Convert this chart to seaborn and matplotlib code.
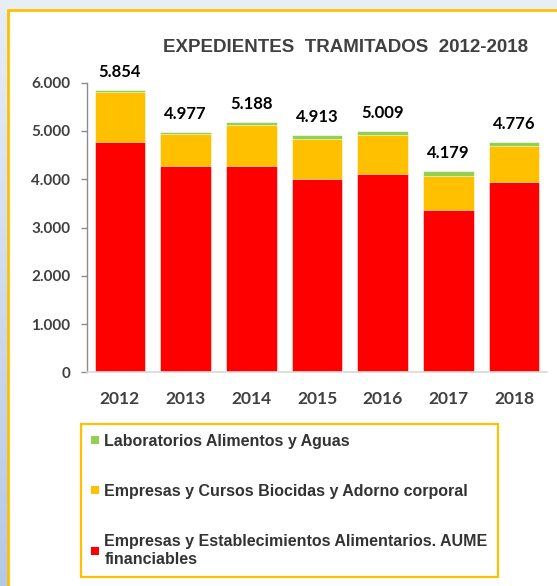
import numpy as np
import pandas as pd
import matplotlib
matplotlib.use("Agg")
import matplotlib.pyplot as plt
from matplotlib.patches import Patch, Rectangle
import seaborn as sns

# Data
years = ["2012", "2013", "2014", "2015", "2016", "2017", "2018"]
alimentarios = [4770, 4280, 4280, 4000, 4108, 3361, 3936]
biocidas = [1030, 657, 853, 830, 811, 703, 750]
laboratorios = [54, 40, 55, 83, 90, 115, 90]
totals = [5854, 4977, 5188, 4913, 5009, 4179, 4776]

labels = [
    "Laboratorios Alimentos y Aguas",
    "Empresas y Cursos Biocidas y Adorno corporal",
    "Empresas y Establecimientos Alimentarios. AUME\nfinanciables",
]
colors = ["#92D050", "#FFC000", "#FF0000"]

df = pd.DataFrame({
    "year": years,
    "red": alimentarios,
    "yellow": biocidas,
    "green": laboratorios,
})
# cumulative heights for stacking via overlapping bars
df["red_top"] = df["red"]
df["yellow_top"] = df["red"] + df["yellow"]
df["green_top"] = df["yellow_top"] + df["green"]

sns.set_style("white")
plt.rcParams["font.family"] = ["Liberation Sans", "DejaVu Sans"]

fig = plt.figure(figsize=(5.57, 5.86), dpi=100)
fig.patch.set_facecolor("#E8EEF6")

W, H = 557, 586

# left blue gradient strip
grad_ax = fig.add_axes([0, 0, 8 / W, 1])
grad_ax.set_zorder(-2)
grad = np.linspace(0, 1, 256).reshape(-1, 1)
grad_ax.imshow(grad, aspect="auto", cmap=matplotlib.colors.LinearSegmentedColormap.from_list(
    "bg", ["#E8EEF6", "#B4C8E8"]), extent=[0, 1, 0, 1], origin="upper")
grad_ax.axis("off")

# white panel with yellow border
fig.patches.append(Rectangle((8 / W, -0.01), 1.0, 1 - 10 / H + 0.01, transform=fig.transFigure,
                             facecolor="white", edgecolor="#FFC000", linewidth=2, zorder=-1))

ax = fig.add_axes([87 / W, (H - 372.3) / H, 460 / W, 289.6 / H])
ax.set_facecolor("white")

sns.barplot(data=df, x="year", y="green_top", color=colors[0], width=0.77,
            saturation=1, ax=ax, edgecolor="white", linewidth=0.4)
sns.barplot(data=df, x="year", y="yellow_top", color=colors[1], width=0.77,
            saturation=1, ax=ax, edgecolor="white", linewidth=0.4)
sns.barplot(data=df, x="year", y="red_top", color=colors[2], width=0.77,
            saturation=1, ax=ax, edgecolor="white", linewidth=0.4)

# total labels above bars
for i, t in enumerate(totals):
    ax.annotate(f"{t:,}".replace(",", "."), (i, t), xytext=(0, 7), textcoords="offset points",
                ha="center", va="bottom", fontsize=12, fontweight="bold", family="Lato",
                color="#000000", annotation_clip=False)

ax.set_ylim(0, 6000)
ax.set_xlim(-0.5, 6.5)
ax.set_yticks(range(0, 6001, 1000))
ax.set_yticklabels([f"{v:,}".replace(",", ".") for v in range(0, 6001, 1000)])
ax.set_xlabel("")
ax.set_ylabel("")

for s in ["top", "right"]:
    ax.spines[s].set_visible(False)
ax.spines["left"].set_color("#8C8C8C")
ax.spines["left"].set_linewidth(1)
ax.spines["bottom"].set_color("#D9D9D9")
ax.spines["bottom"].set_linewidth(1.2)

ax.tick_params(axis="y", left=True, length=4, width=1, color="#8C8C8C", pad=8,
               labelsize=11, labelcolor="#404040")
ax.tick_params(axis="x", bottom=False, pad=10, labelsize=12.5, labelcolor="#404040")
for lbl in ax.get_yticklabels() + ax.get_xticklabels():
    lbl.set_fontweight("bold")
    lbl.set_family("Lato")

fig.text(346 / W, 1 - 47 / H, "EXPEDIENTES  TRAMITADOS  2012-2018", ha="center", va="center",
         fontsize=13.5, fontweight="bold", color="#404040")

handles = [Patch(facecolor=c, edgecolor="none") for c in colors]
leg = fig.legend(handles, labels, loc="upper left", bbox_to_anchor=(81 / W, 1 - 424 / H),
                 frameon=True, fancybox=False, framealpha=1, edgecolor="#FFC000",
                 handlelength=0.5, handleheight=0.4, handletextpad=0.35,
                 labelspacing=2.2, borderpad=0.62, borderaxespad=0,
                 prop={"size": 11.5, "weight": "bold"})
leg.get_frame().set_linewidth(1.6)
for txt in leg.get_texts():
    txt.set_color("#333333")
    txt.set_linespacing(1.25)

fig.savefig("out.png", dpi=100, facecolor=fig.get_facecolor())
